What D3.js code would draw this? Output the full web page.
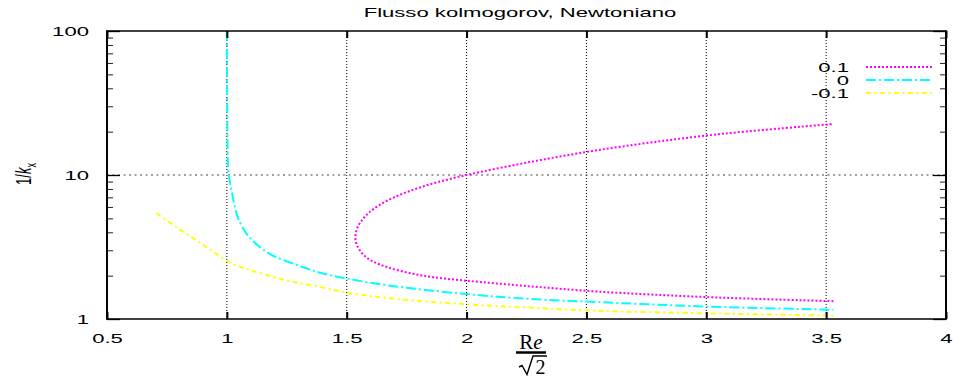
<!DOCTYPE html>
<html>
<head>
<meta charset="utf-8">
<script src="https://cdn.jsdelivr.net/npm/d3@7"></script>
<style>
  body { margin: 0; background: #fff; }
  svg { display: block; }
  text { font-family: "Liberation Sans", Arial, sans-serif; }
</style>
</head>
<body>
<svg id="chart" width="953" height="378"></svg>
<script>
// valori
const title = "Flusso kolmogorov, Newtoniano";
const seriesNames = ["0.1", "0", "-0.1"];
const seriesColors = ["#ff00ff", "#00ffff", "#ffff00"];
const seriesDash = ["2,2", "10,3,2,3", "5,3.5,2,3.5"];

const xTicks = [0.5, 1, 1.5, 2, 2.5, 3, 3.5, 4];
const yTicks = [1, 10, 100];
const yMinor = [2, 3, 4, 5, 6, 7, 8, 9, 20, 30, 40, 50, 60, 70, 80, 90];

// 0.1 (ramo inferiore -> naso -> ramo superiore)
const magentaX = [3.53, 3.0, 2.55, 2.258, 2.0, 1.861, 1.765, 1.670, 1.607, 1.572, 1.552, 1.540, 1.536,
                  1.542, 1.560, 1.590, 1.635, 1.698, 1.783, 1.877, 2.0, 2.258, 2.55, 3.0, 3.53];
const magentaY = [1.33, 1.42, 1.55, 1.69, 1.845, 1.95, 2.08, 2.29, 2.52, 2.77, 3.05, 3.35, 3.69,
                  4.20, 4.77, 5.42, 6.16, 7.0, 7.96, 8.9, 10, 12.25, 14.9, 18.8, 22.6];
// 0
const cyanX = [1.0, 1.0, 1.002, 1.004, 1.008, 1.015, 1.022, 1.033, 1.05, 1.092, 1.175, 1.3, 1.397, 1.5, 1.675, 2.0, 2.258, 2.55, 3.0, 3.53];
const cyanY = [100, 70, 24, 12.7, 10, 8.5, 7.46, 6.03, 4.87, 3.73, 2.86, 2.35, 2.08, 1.91, 1.71, 1.49, 1.38, 1.31, 1.22, 1.16];
// -0.1
const yellowX = [0.707, 0.790, 0.874, 0.938, 1.004, 1.075, 1.158, 1.263, 1.388, 1.505, 1.721, 2.005, 2.258, 2.55, 3.0, 3.53];
const yellowY = [5.42, 4.35, 3.51, 2.97, 2.51, 2.24, 2.04, 1.83, 1.67, 1.52, 1.37, 1.265, 1.20, 1.14, 1.095, 1.055];

const seriesX = [magentaX, cyanX, yellowX];
const seriesY = [magentaY, cyanY, yellowY];

const SX = 1.7; // il grafico originale e' stirato in orizzontale
const margin = {top: 31, right: 7, bottom: 59, left: 107};
const width = 953, height = 378;
const svg = d3.select("#chart");

const x = d3.scaleLinear().domain([0.5, 4]).range([margin.left, width - margin.right]);
const y = d3.scaleLog().domain([1, 100]).range([height - margin.bottom, margin.top]);

// griglia
svg.append("g").selectAll("line")
  .data(xTicks.filter(d => d > 0.5 && d < 4))
  .enter().append("line")
  .attr("x1", d => x(d)).attr("x2", d => x(d))
  .attr("y1", y(100)).attr("y2", y(1))
  .attr("stroke", "#000").attr("stroke-width", 1)
  .attr("stroke-dasharray", "1,2");

svg.append("g").selectAll("line")
  .data([10])
  .enter().append("line")
  .attr("x1", x(0.5)).attr("x2", x(4))
  .attr("y1", d => y(d)).attr("y2", d => y(d))
  .attr("stroke", "#444").attr("stroke-width", 1)
  .attr("stroke-dasharray", "2,3.5");

// curve
svg.append("clipPath").attr("id", "clip")
  .append("rect")
  .attr("x", x(0.5)).attr("y", y(100))
  .attr("width", x(4) - x(0.5)).attr("height", y(1) - y(100));

const line = d3.line()
  .x(d => x(d[0]))
  .y(d => y(d[1]))
  .curve(d3.curveCatmullRom.alpha(0.5));

const curves = svg.append("g").attr("clip-path", "url(#clip)");
seriesNames.forEach((name, i) => {
  const pts = seriesX[i].map((v, j) => [v, seriesY[i][j]]);
  curves.append("path")
    .datum(pts)
    .attr("d", line)
    .attr("fill", "none")
    .attr("stroke", seriesColors[i])
    .attr("stroke-width", 2)
    .attr("stroke-dasharray", seriesDash[i]);
});

// assi
const stretchText = sel => sel.selectAll("text")
  .attr("transform", `scale(${SX},1)`)
  .attr("fill", "#000")
  .style("font-size", "13px");

const gx = svg.append("g")
  .attr("transform", `translate(0,${y(1)})`)
  .call(d3.axisBottom(x).tickValues(xTicks).tickFormat(d => String(d))
    .tickSizeInner(-7).tickSizeOuter(0).tickPadding(14.5));
gx.select(".domain").remove();
gx.selectAll("line").attr("stroke-width", 2);
stretchText(gx);

const gxTop = svg.append("g")
  .attr("transform", `translate(0,${y(100)})`)
  .call(d3.axisTop(x).tickValues(xTicks).tickFormat("").tickSizeInner(-7).tickSizeOuter(0));
gxTop.select(".domain").remove();
gxTop.selectAll("line").attr("stroke-width", 2);

const gy = svg.append("g")
  .attr("transform", `translate(${x(0.5)},0)`)
  .call(d3.axisLeft(y).tickValues(yTicks).tickFormat(d3.format("d"))
    .tickSizeInner(-13).tickSizeOuter(0).tickPadding(10.6));
gy.select(".domain").remove();
gy.selectAll("line").attr("stroke-width", 1.3);
stretchText(gy);

const gyMinor = svg.append("g")
  .attr("transform", `translate(${x(0.5)},0)`)
  .call(d3.axisLeft(y).tickValues(yMinor).tickFormat("").tickSizeInner(-6).tickSizeOuter(0));
gyMinor.select(".domain").remove();
gyMinor.selectAll("line").attr("stroke", "#222");

const gyR = svg.append("g")
  .attr("transform", `translate(${x(4)},0)`)
  .call(d3.axisRight(y).tickValues(yTicks).tickFormat("").tickSizeInner(-13).tickSizeOuter(0));
gyR.select(".domain").remove();
gyR.selectAll("line").attr("stroke-width", 1.3);

const gyRMinor = svg.append("g")
  .attr("transform", `translate(${x(4)},0)`)
  .call(d3.axisRight(y).tickValues(yMinor).tickFormat("").tickSizeInner(-6).tickSizeOuter(0));
gyRMinor.select(".domain").remove();
gyRMinor.selectAll("line").attr("stroke", "#222");

// cornice
const frame = svg.append("g").attr("stroke", "#000");
frame.append("line").attr("x1", x(0.5)).attr("x2", x(0.5)).attr("y1", y(100) - 0.7).attr("y2", y(1) + 0.7).attr("stroke-width", 2);
frame.append("line").attr("x1", x(4)).attr("x2", x(4)).attr("y1", y(100) - 0.7).attr("y2", y(1) + 0.7).attr("stroke-width", 2);
frame.append("line").attr("x1", x(0.5)).attr("x2", x(4)).attr("y1", y(100)).attr("y2", y(100)).attr("stroke-width", 1.4);
frame.append("line").attr("x1", x(0.5)).attr("x2", x(4)).attr("y1", y(1)).attr("y2", y(1)).attr("stroke-width", 1.4);

// titolo
svg.append("g")
  .attr("transform", `translate(520,17) scale(${SX},1)`)
  .append("text")
  .attr("text-anchor", "middle")
  .style("font-size", "13px")
  .text(title);

// etichetta asse y: 1/k_x
const yl = svg.append("g")
  .attr("transform", `translate(31,174) scale(${SX},1) rotate(-90)`)
  .append("text")
  .attr("text-anchor", "middle")
  .style("font-size", "13px");
yl.append("tspan").text("1/");
yl.append("tspan").style("font-style", "italic").text("k");
yl.append("tspan").attr("dy", 3).style("font-size", "9px").text("x");

// etichetta asse x: Re / sqrt(2)
const xl = svg.append("g").attr("class", "xlabel");
const re = xl.append("text")
  .attr("x", 531).attr("y", 349)
  .attr("text-anchor", "middle")
  .style("font-family", "'Liberation Serif', 'DejaVu Serif', serif")
  .style("font-size", "21px");
re.append("tspan").text("R");
re.append("tspan").style("font-style", "italic").text("e");
xl.append("line")
  .attr("x1", 516).attr("x2", 546).attr("y1", 352.5).attr("y2", 352.5)
  .attr("stroke", "#000").attr("stroke-width", 2.5);
xl.append("path")
  .attr("d", "M519,367 L522,365.5 L527,374.5 L533,356 L547,356")
  .attr("fill", "none").attr("stroke", "#000").attr("stroke-width", 1.4)
  .attr("stroke-linejoin", "miter");
xl.append("text")
  .attr("x", 540.5).attr("y", 373.5)
  .attr("text-anchor", "middle")
  .style("font-family", "'Liberation Serif', 'DejaVu Serif', serif")
  .style("font-size", "20px")
  .text("2");

// legenda
const leg = svg.append("g");
seriesNames.forEach((name, i) => {
  const ly = 67 + i * 13;
  leg.append("g")
    .attr("transform", `translate(849,${ly + 4.6}) scale(${SX},1)`)
    .append("text")
    .attr("text-anchor", "end")
    .style("font-size", "13px")
    .text(name);
  leg.append("line")
    .attr("x1", 866).attr("x2", 932)
    .attr("y1", ly).attr("y2", ly)
    .attr("stroke", seriesColors[i])
    .attr("stroke-width", 2)
    .attr("stroke-dasharray", seriesDash[i]);
});
</script>
</body>
</html>
